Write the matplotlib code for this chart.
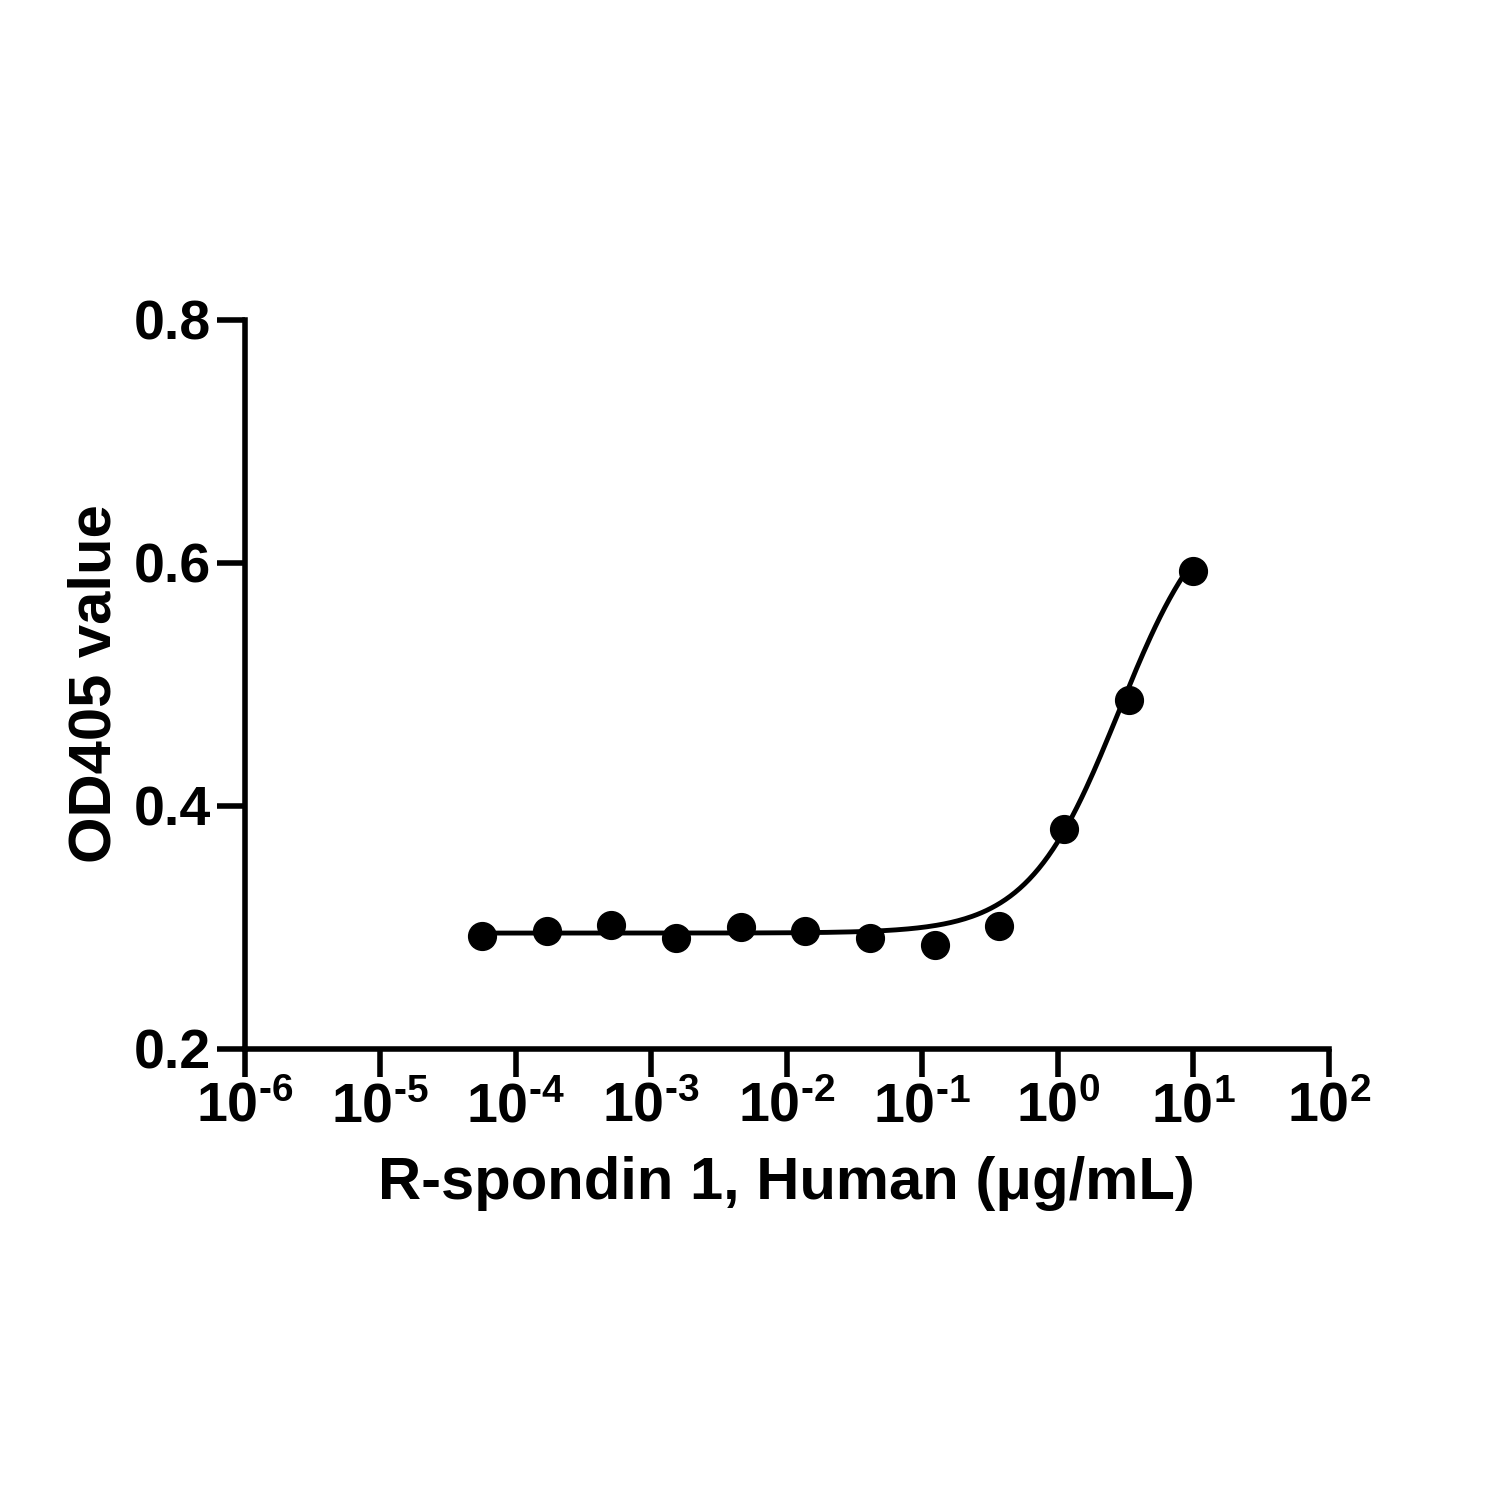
import matplotlib
matplotlib.use("Agg")
import matplotlib.pyplot as plt
import numpy as np

plt.rcParams["font.family"] = ["Liberation Sans", "DejaVu Sans"]
plt.rcParams["font.weight"] = "bold"
plt.rcParams["mathtext.fontset"] = "custom"
plt.rcParams["mathtext.rm"] = "Liberation Sans:bold"
plt.rcParams["mathtext.bf"] = "Liberation Sans:bold"
plt.rcParams["axes.unicode_minus"] = False

# 3-fold dilution series starting at 10 ug/mL
conc = [10 / 3 ** k for k in range(12)][::-1]
od405 = [0.293, 0.297, 0.302, 0.291, 0.300, 0.297, 0.291, 0.285, 0.301, 0.381, 0.487, 0.593]

# 4-parameter logistic fit (estimated)
bottom, top, log_ec50, hill = 0.295, 0.66, 0.45, 1.3

fig = plt.figure(figsize=(15, 15), dpi=100)
ax = fig.add_axes([0.163, 0.301, 0.723, 0.486])

xs = np.logspace(np.log10(conc[0]), np.log10(conc[-1]), 300)
fit = bottom + (top - bottom) / (1 + 10 ** (hill * (log_ec50 - np.log10(xs))))
ax.plot(xs, fit, color="black", lw=3.5)
ax.plot(conc, od405, "o", color="black", ms=20)

ax.set_xscale("log")
ax.set_xlim(1e-6, 1e2)
ax.set_ylim(0.2, 0.8)
ax.set_xticks([10.0 ** e for e in range(-6, 3)])
ax.set_xticklabels([f"$\\mathbf{{10^{{{e}}}}}$".replace("-", "\\text{-}") for e in range(-6, 3)])
ax.xaxis.set_minor_locator(matplotlib.ticker.NullLocator())
ax.set_yticks([0.2, 0.4, 0.6, 0.8])
ax.set_yticklabels(["0.2", "0.4", "0.6", "0.8"])
ax.spines[["top", "right"]].set_visible(False)
for s in ["left", "bottom"]:
    ax.spines[s].set_linewidth(4)
ax.tick_params(width=4, length=20, labelsize=40, pad=4)
ax.set_xlabel("R-spondin 1, Human (μg/mL)", fontsize=43, fontweight="bold", labelpad=16)
ax.set_ylabel("OD405 value", fontsize=43, fontweight="bold", labelpad=8)

fig.savefig("out.png")
